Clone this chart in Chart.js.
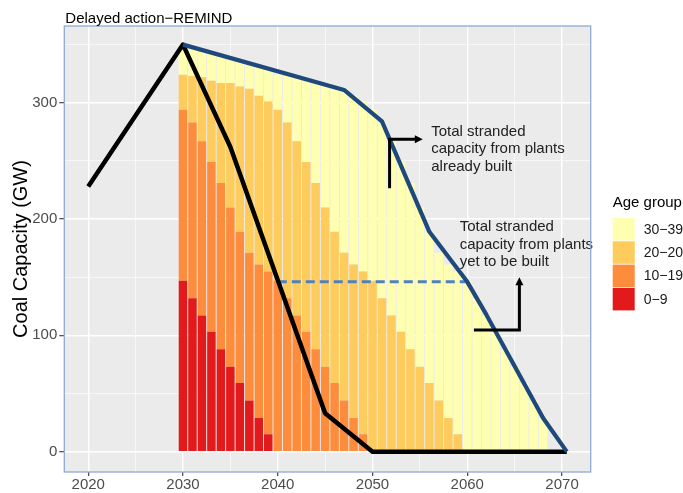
<!DOCTYPE html>
<html>
<head>
<meta charset="utf-8">
<script src="https://cdn.jsdelivr.net/npm/chart.js@4.4.1/dist/chart.umd.min.js"></script>
<style>
  html, body { margin: 0; padding: 0; background: #fff; }
  #wrap { width: 683px; height: 493px; }
</style>
</head>
<body>
<div id="wrap"><canvas id="chart" width="683" height="493"></canvas></div>
<script>
// one stacked bar per year
const years = [2030, 2031, 2032, 2033, 2034, 2035, 2036, 2037, 2038, 2039,
               2040, 2041, 2042, 2043, 2044, 2045, 2046, 2047, 2048, 2049,
               2050, 2051, 2052, 2053, 2054, 2055, 2056, 2057, 2058, 2059,
               2060, 2061, 2062, 2063, 2064, 2065, 2066, 2067, 2068];

// capacity by age group (GW)
const age0to9 = [147, 132, 117, 103, 88, 73, 59, 44, 29, 15,
                 0, 0, 0, 0, 0, 0, 0, 0, 0, 0,
                 0, 0, 0, 0, 0, 0, 0, 0, 0, 0,
                 0, 0, 0, 0, 0, 0, 0, 0, 0];
const age10to19 = [147, 151, 150, 146, 143, 137, 130, 127, 132, 140,
                   147, 132, 117, 103, 88, 73, 59, 44, 29, 15,
                   0, 0, 0, 0, 0, 0, 0, 0, 0, 0,
                   0, 0, 0, 0, 0, 0, 0, 0, 0];
const age20to29 = [30, 40, 55, 70, 86, 107, 125, 141, 145, 146,
                   147, 151, 150, 146, 143, 137, 130, 127, 132, 140,
                   147, 132, 117, 103, 88, 73, 59, 44, 29, 15,
                   0, 0, 0, 0, 0, 0, 0, 0, 0];
const age30to39 = [26, 25, 23, 24, 24, 21, 22, 22, 25, 28,
                   30, 40, 55, 70, 86, 107, 125, 141, 145, 146,
                   147, 151, 150, 146, 143, 137, 130, 127, 132, 140,
                   147, 132, 117, 103, 88, 73, 59, 44, 29];

// black line: total capacity pathway
const pathYears = [2020, 2030, 2035, 2045, 2050, 2070.5];
const pathCap = [228, 350, 262, 33, 0, 0];

// navy line: stranded capacity from plants already built
const builtYears = [2030, 2047, 2051, 2056, 2060, 2062, 2068, 2070.5];
const builtCap = [350, 311, 284, 189, 146, 118, 29, 0];

// dashed line: stranded capacity from plants yet to be built
const newYears = [2040, 2060];
const newCap = [146, 146];

// labelled ticks and all grid lines
const xTicks = [2020, 2030, 2040, 2050, 2060, 2070];
const xGrid = [2020, 2025, 2030, 2035, 2040, 2045, 2050, 2055, 2060, 2065, 2070];
const yTicks = [0, 100, 200, 300];
const yGrid = [0, 50, 100, 150, 200, 250, 300, 350];

const ageLabels = ['0\u22129', '10\u221219', '20\u221220', '30\u221239'];
const ageColors = ['#E31A1C', '#FD8D3C', '#FECC5C', '#FFFFB2'];

const FONT = "'Liberation Sans', Arial, sans-serif";

function pts(xs, ys) {
  return xs.map((x, i) => ({x: x, y: ys[i]}));
}

const ageSeries = [age0to9, age10to19, age20to29, age30to39];
const barSets = ageSeries.map((vals, i) => ({
  type: 'bar',
  label: ageLabels[i],
  data: pts(years, vals),
  backgroundColor: ageColors[i],
  borderWidth: 0,
  barPercentage: 0.9,
  categoryPercentage: 1,
  order: 3 + i
}));

const panelBg = {
  id: 'panelBg',
  beforeDraw(chart) {
    const {ctx, chartArea: a} = chart;
    ctx.save();
    ctx.fillStyle = '#EBEBEB';
    ctx.fillRect(a.left, a.top, a.right - a.left, a.bottom - a.top);
    ctx.restore();
  },
  afterDraw(chart) {
    const {ctx, chartArea: a} = chart;
    ctx.save();
    ctx.strokeStyle = '#8FAAD2';
    ctx.lineWidth = 1.3;
    ctx.strokeRect(a.left, a.top, a.right - a.left, a.bottom - a.top);
    // title
    ctx.fillStyle = '#000';
    ctx.font = '15px ' + FONT;
    ctx.textBaseline = 'middle';
    ctx.textAlign = 'left';
    ctx.fillText('Delayed action\u2212REMIND', a.left + 1, 19);
    // legend
    const bars = chart.data.datasets.filter(d => d.type === 'bar').slice().reverse();
    const lx = a.right + 22, top = 218;
    ctx.fillText('Age group', lx, 203);
    ctx.font = '14px ' + FONT;
    bars.forEach((d, i) => {
      const y = top + i * 23.3;
      ctx.fillStyle = d.backgroundColor;
      ctx.fillRect(lx, y, 22, 22.5);
      ctx.fillStyle = '#1A1A1A';
      ctx.fillText(d.label, lx + 31, y + 12);
    });
    ctx.restore();
  }
};

// text and arrow notes, placed in data units
const notes = {
  id: 'notes',
  afterDatasetsDraw(chart) {
    const {ctx} = chart;
    const x = chart.scales.x, y = chart.scales.y;
    const px = v => x.getPixelForValue(v), py = v => y.getPixelForValue(v);
    ctx.save();
    ctx.fillStyle = '#222';
    ctx.font = '15px ' + FONT;
    ctx.textBaseline = 'middle';
    ['Total stranded', 'capacity from plants', 'already built'].forEach((t, i) => {
      ctx.fillText(t, px(2056.2), py(275.2) + i * 17.6);
    });
    ['Total stranded', 'capacity from plants', 'yet to be built'].forEach((t, i) => {
      ctx.fillText(t, px(2059.2), py(193.5) + i * 17.8);
    });
    ctx.strokeStyle = '#000';
    ctx.fillStyle = '#000';
    ctx.lineWidth = 3;
    ctx.lineJoin = 'miter';
    // arrow 1, pointing right
    let ax = px(2051.8), ay = py(268.6), ex = px(2055.2);
    ctx.beginPath();
    ctx.moveTo(ax, py(226.5));
    ctx.lineTo(ax, ay);
    ctx.lineTo(ex - 6, ay);
    ctx.stroke();
    ctx.beginPath();
    ctx.moveTo(ex + 1, ay);
    ctx.lineTo(ex - 7, ay - 4);
    ctx.lineTo(ex - 7, ay + 4);
    ctx.closePath();
    ctx.fill();
    // arrow 2, pointing up
    ax = px(2065.5); ay = py(104.6);
    const ey = py(149.1);
    ctx.beginPath();
    ctx.moveTo(px(2060.7), ay);
    ctx.lineTo(ax, ay);
    ctx.lineTo(ax, ey + 6);
    ctx.stroke();
    ctx.beginPath();
    ctx.moveTo(ax, ey - 1);
    ctx.lineTo(ax - 4, ey + 7);
    ctx.lineTo(ax + 4, ey + 7);
    ctx.closePath();
    ctx.fill();
    ctx.restore();
  }
};

const tickFont = {family: FONT, size: 15};

new Chart(document.getElementById('chart'), {
  type: 'bar',
  data: {
    datasets: [
      {
        type: 'line', label: 'already built', data: pts(builtYears, builtCap),
        borderColor: '#1F497D', borderWidth: 4.2, pointRadius: 0, tension: 0,
        borderJoinStyle: 'round', stack: 'built', order: 0
      },
      {
        type: 'line', label: 'pathway', data: pts(pathYears, pathCap),
        borderColor: '#000', borderWidth: 4.5, pointRadius: 0, tension: 0,
        borderJoinStyle: 'round', stack: 'path', order: 1
      },
      {
        type: 'line', label: 'yet to be built', data: pts(newYears, newCap),
        borderColor: '#4F81BD', borderWidth: 3, borderDash: [9, 5], pointRadius: 0,
        stack: 'new', order: 2
      },
      ...barSets
    ]
  },
  options: {
    responsive: false,
    animation: false,
    layout: {padding: {top: 26, right: 92.3, left: 0, bottom: 0}},
    plugins: {legend: {display: false}, tooltip: {enabled: false}, title: {display: false}},
    scales: {
      x: {
        type: 'linear', min: 2017.475, max: 2073.025, stacked: true, offset: false,
        afterBuildTicks: s => { s.ticks = xGrid.map(v => ({value: v})); },
        afterFit: s => { s.height = 21; },
        ticks: {
          autoSkip: false, maxRotation: 0, padding: 0,
          color: '#4D4D4D', font: tickFont,
          callback: v => xTicks.includes(v) ? String(v) : ''
        },
        grid: {
          offset: false, color: '#FFFFFF', tickLength: 4, tickWidth: 1.1,
          lineWidth: c => (c.tick && xTicks.includes(c.tick.value)) ? 1.4 : 0.6,
          tickColor: c => (c.tick && xTicks.includes(c.tick.value)) ? '#333333' : 'rgba(0,0,0,0)'
        },
        border: {display: false}
      },
      y: {
        type: 'linear', min: -17.5, max: 366, stacked: true,
        afterBuildTicks: s => { s.ticks = yGrid.map(v => ({value: v})); },
        afterFit: s => { s.width = 64.3; },
        ticks: {
          padding: 2, color: '#4D4D4D', font: tickFont,
          callback: v => yTicks.includes(v) ? String(v) : ''
        },
        grid: {
          color: '#FFFFFF', tickLength: 5, tickWidth: 1.1,
          lineWidth: c => (c.tick && yTicks.includes(c.tick.value)) ? 1.4 : 0.6,
          tickColor: c => (c.tick && yTicks.includes(c.tick.value)) ? '#333333' : 'rgba(0,0,0,0)'
        },
        border: {display: false},
        title: {
          display: true, text: 'Coal Capacity (GW)', color: '#000',
          font: {family: FONT, size: 20}, padding: {top: 9, bottom: 0}
        }
      }
    }
  },
  plugins: [panelBg, notes]
});
</script>
</body>
</html>
